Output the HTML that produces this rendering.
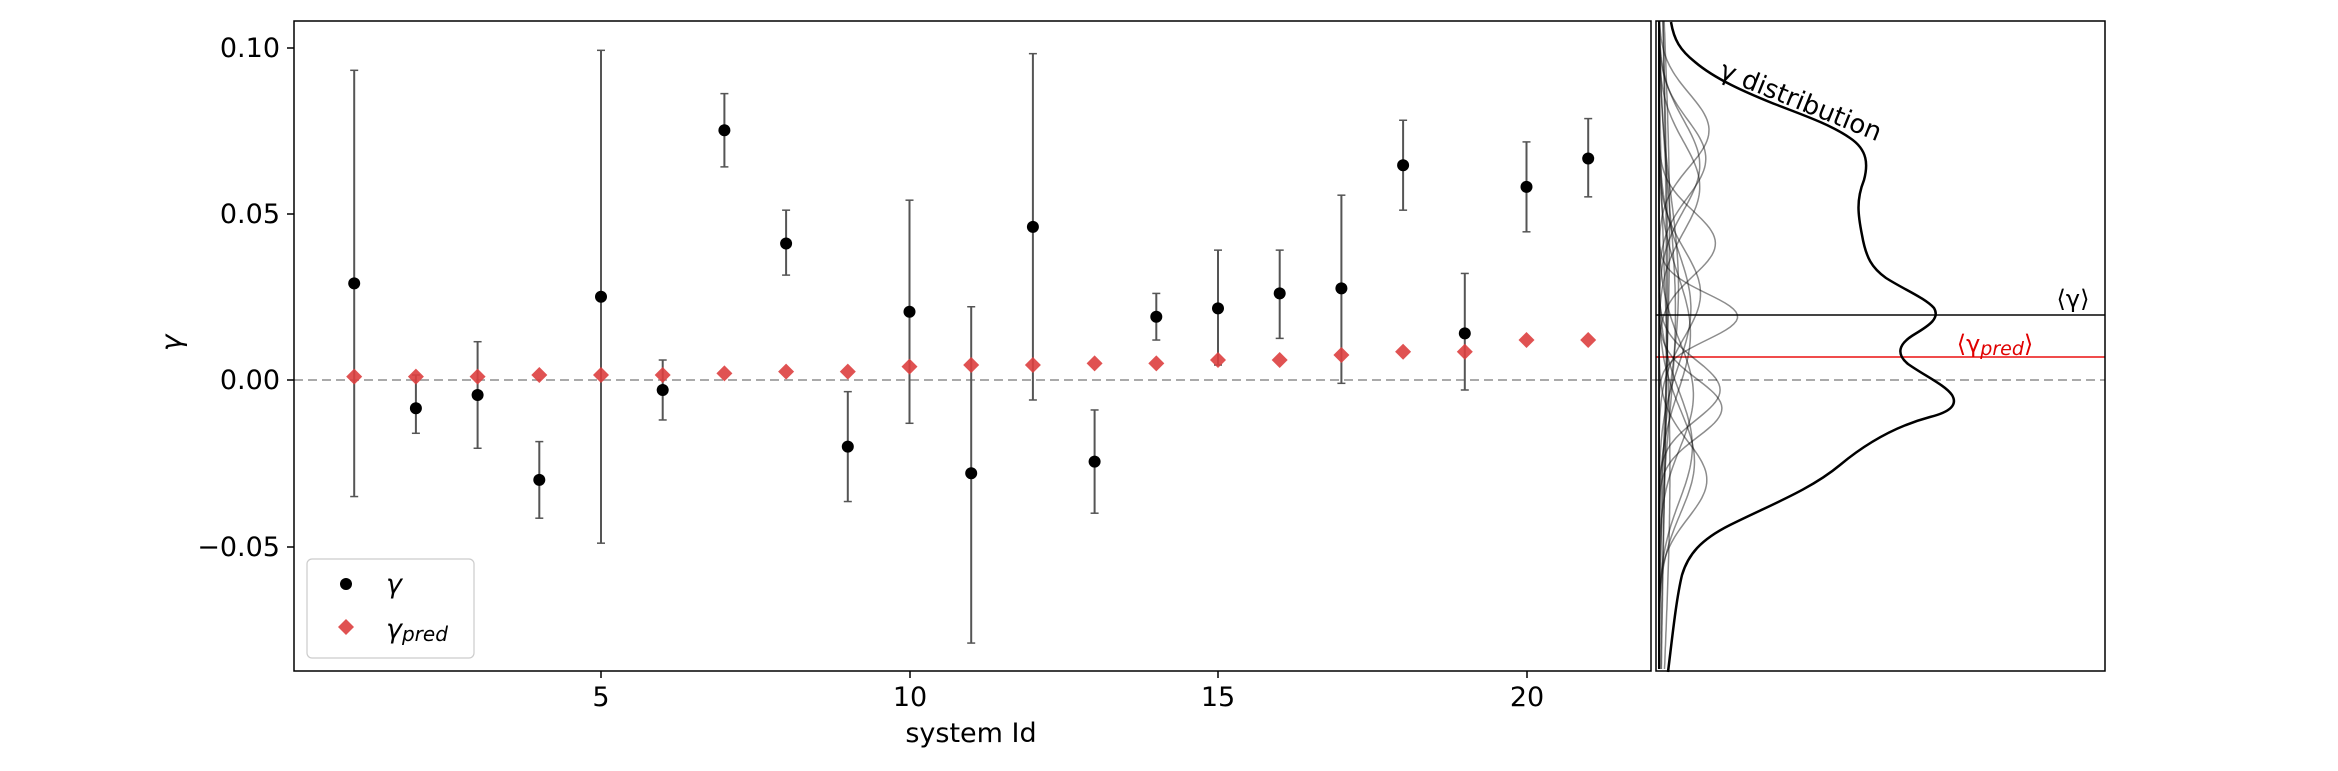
<!DOCTYPE html>
<html><head><meta charset="utf-8"><style>
html,body{margin:0;padding:0;background:#fff;width:2338px;height:771px;overflow:hidden}
svg text{font-family:"DejaVu Sans","Liberation Sans",sans-serif}
</style></head><body>
<svg id="s" width="2338" height="771" xmlns="http://www.w3.org/2000/svg">
<rect width="2338" height="771" fill="#fff"/>
<g id="g"></g>
<rect x="294" y="21" width="1357" height="650" fill="none" stroke="#000" stroke-width="1.5"/>
<rect x="1656" y="21" width="449" height="650" fill="none" stroke="#000" stroke-width="1.5"/>
<g font-size="27" fill="#000" text-anchor="end">
<text x="280" y="57">0.10</text>
<text x="280" y="223">0.05</text>
<text x="280" y="389">0.00</text>
<text x="280" y="556">−0.05</text>
</g>
<g stroke="#000" stroke-width="1.5">
<line x1="287" y1="48" x2="294" y2="48"/><line x1="287" y1="214" x2="294" y2="214"/>
<line x1="287" y1="380" x2="294" y2="380"/><line x1="287" y1="547" x2="294" y2="547"/>
<line x1="601" y1="671" x2="601" y2="678"/><line x1="910" y1="671" x2="910" y2="678"/>
<line x1="1218" y1="671" x2="1218" y2="678"/><line x1="1527" y1="671" x2="1527" y2="678"/>
</g>
<g font-size="27" fill="#000" text-anchor="middle">
<text x="601" y="706">5</text><text x="910" y="706">10</text>
<text x="1218" y="706">15</text><text x="1527" y="706">20</text>
<text x="971" y="742">system Id</text>
</g>
<text x="181" y="343" font-size="28" font-style="italic" text-anchor="middle" transform="rotate(-90 181 343)">γ</text>
<rect x="307" y="559" width="167" height="99" rx="5" fill="#fff" fill-opacity="0.85" stroke="#ccc" stroke-width="1.2"/>
<circle cx="346" cy="584" r="6" fill="#000"/>
<path d="M346 619 l8 8 l-8 8 l-8 -8z" fill="#dd3f3f" fill-opacity="0.9"/>
<text x="386" y="593" font-size="27" font-style="italic">γ</text>
<text x="386" y="638" font-size="27" font-style="italic">γ<tspan font-size="20" dy="3">pred</tspan></text>
<text x="1718" y="77" font-size="26" transform="rotate(22 1718 77)">γ distribution</text>
<text x="2073" y="307" font-size="24" text-anchor="middle">⟨γ⟩</text>
<text x="1995" y="352" font-size="24" fill="#e00000" text-anchor="middle">⟨γ<tspan font-size="19" font-style="italic" dy="3">pred</tspan><tspan dy="-3">⟩</tspan></text>
</svg>
<script>
var g=document.getElementById('g'),NS='http://www.w3.org/2000/svg';
function el(t,a){var e=document.createElementNS(NS,t);for(var k in a)e.setAttribute(k,a[k]);g.appendChild(e);return e;}
function Y(v){return 380-v*3330;}function X(i){return 601+(i-5)*61.7;}
var d=[[.029,.093,-.035],[-.0085,.0015,-.016],[-.0045,.0115,-.0205],[-.030,-.0185,-.0415],[.025,.099,-.049],[-.003,.006,-.012],[.075,.086,.064],[.041,.051,.0315],[-.020,-.0035,-.0365],[.0205,.054,-.013],[-.028,.022,-.079],[.046,.098,-.006],[-.0245,-.009,-.040],[.019,.026,.012],[.0215,.039,.0045],[.026,.039,.0125],[.0275,.0555,-.001],[.0645,.078,.051],[.014,.032,-.003],[.058,.0715,.0445],[.0665,.0785,.055]];
var p=[.001,.001,.001,.0015,.0015,.0015,.002,.0025,.0025,.004,.0045,.0045,.005,.005,.006,.006,.0075,.0085,.0085,.012,.012];
el('line',{x1:294,x2:2105,y1:380,y2:380,stroke:'#aaa','stroke-width':2,'stroke-dasharray':'9,5'});
el('line',{x1:1656,x2:2105,y1:315,y2:315,stroke:'#444','stroke-width':2});
el('line',{x1:1656,x2:2105,y1:357,y2:357,stroke:'#e33','stroke-width':1.8});
for(var i=0;i<21;i++){var m=d[i][0],s=(d[i][1]-d[i][2])/2,pts=[];
 for(var y=21;y<=671;y+=3){var v=(380-y)/3330,a=0.55/s*Math.exp(-0.5*Math.pow((v-m)/s,2));pts.push((1659+a).toFixed(1)+','+y);}
 el('polyline',{points:pts.join(' '),fill:'none',stroke:'#000','stroke-opacity':0.45,'stroke-width':1.5});}
el('path',{d:'M1671 22 C1674 40 1680 50 1695 62 C1715 79 1745 92 1772 103 C1800 114 1830 124 1850 138 C1868 150 1868 165 1864 180 C1856 200 1858 215 1862 235 C1866 258 1872 268 1886 278 C1905 290 1925 298 1934 308 C1940 318 1930 325 1915 334 C1898 344 1896 354 1908 364 C1925 376 1945 385 1952 395 C1958 405 1950 412 1930 417 C1900 425 1870 440 1840 465 C1810 490 1770 505 1730 525 C1700 540 1688 555 1682 575 C1676 600 1672 640 1668 672',fill:'none',stroke:'#000','stroke-width':2.5});
for(var i=0;i<21;i++){var x=X(i+1),r=d[i];
 el('line',{x1:x,x2:x,y1:Y(r[1]),y2:Y(r[2]),stroke:'#555','stroke-width':2});
 el('line',{x1:x-4,x2:x+4,y1:Y(r[1]),y2:Y(r[1]),stroke:'#555','stroke-width':1.5});
 el('line',{x1:x-4,x2:x+4,y1:Y(r[2]),y2:Y(r[2]),stroke:'#555','stroke-width':1.5});
 el('circle',{cx:x,cy:Y(r[0]),r:6,fill:'#000'});}
for(var i=0;i<21;i++){var x=X(i+1),y=Y(p[i]);
 el('path',{d:'M'+x+' '+(y-8)+' l8 8 l-8 8 l-8 -8z',fill:'#dd3f3f','fill-opacity':0.9});}
</script>
</body></html>
